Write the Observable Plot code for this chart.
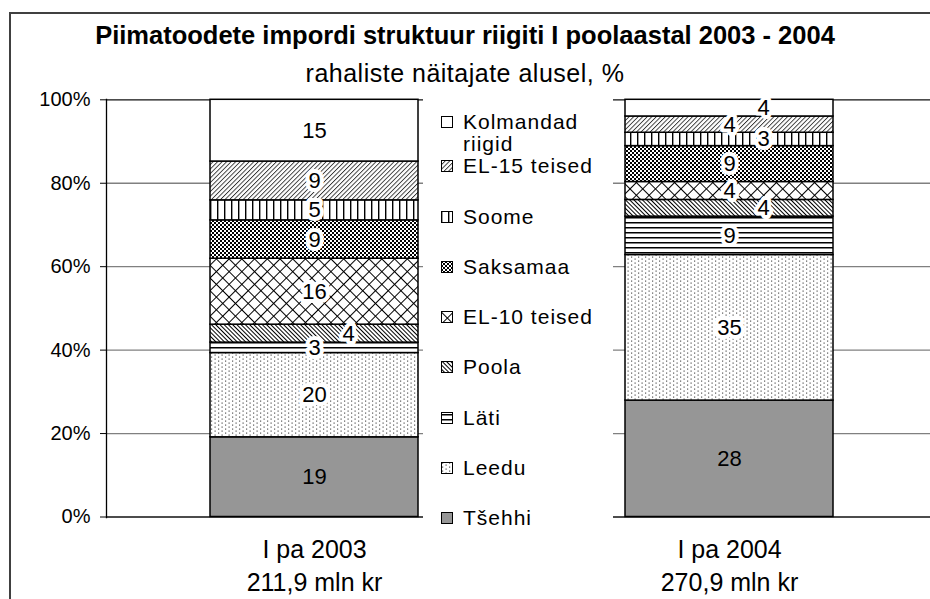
<!DOCTYPE html>
<html><head><meta charset="utf-8">
<script src="https://cdn.jsdelivr.net/npm/d3@7"></script>
<script src="https://cdn.jsdelivr.net/npm/@observablehq/plot@0.6"></script>
<style>
body{margin:0;background:#fff;font-family:"Liberation Sans",Arial,sans-serif;color:#000;}
#wrap{position:relative;width:930px;height:599px;overflow:hidden;}
#frame{position:absolute;left:9px;top:12px;width:1000px;height:700px;border-left:2px solid #404040;border-top:2px solid #404040;}
#title{position:absolute;left:0;width:930px;top:20px;text-align:center;font-weight:bold;font-size:25.5px;line-height:30px;}
#subtitle{position:absolute;left:0;width:930px;top:59px;text-align:center;font-size:25px;line-height:28px;letter-spacing:0.5px;}
#chart{position:absolute;left:0;top:80px;}
#legend{position:absolute;left:423px;top:92px;width:190px;height:443px;background:#fff;}
.item{position:absolute;left:18px;display:flex;align-items:flex-start;font-size:21px;letter-spacing:1px;line-height:22px;}
.item svg{flex:none;margin-top:5px;margin-right:10px;}
.item span{width:150px;display:block;}
</style></head>
<body>
<div id="wrap">
  <div id="frame"></div>
  <div id="title">Piimatoodete impordi struktuur riigiti I poolaastal 2003 - 2004</div>
  <div id="subtitle">rahaliste näitajate alusel, %</div>
  <div id="chart"></div>
  <div id="legend"></div>
</div>
<script>
// ---- data (bottom -> top of each stacked bar) ----
const countries = ["Tšehhi","Leedu","Läti","Poola","EL-10 teised","Saksamaa","Soome","EL-15 teised","Kolmandad riigid"];
const periods = ["I pa 2003","I pa 2004"];
const totals = ["211,9 mln kr","270,9 mln kr"];
const share2003 = [19.1,20.2,2.5,4.3,15.8,9.2,4.8,9.3,14.8];
const share2004 = [27.9,34.9,9.2,4.0,4.3,8.6,3.2,3.9,4.0];
const yTicks = [0,20,40,60,80,100];
const gridTicks = [20,40,60,80];

// ---- patterns ----
const defs = d3.select("body").append("svg").attr("width",0).attr("height",0)
  .style("position","absolute").append("defs");
function pat(id,w,h,tr){
  const p = defs.append("pattern").attr("id",id).attr("patternUnits","userSpaceOnUse")
    .attr("width",w).attr("height",h);
  if (tr) p.attr("patternTransform",tr);
  p.append("rect").attr("width",w).attr("height",h).attr("fill","#fff");
  return p;
}
// Leedu: sparse dots
let p = pat("p1",7,4); p.append("rect").attr("x",1).attr("y",0.5).attr("width",1.2).attr("height",1.2).attr("fill","#555");
p.append("rect").attr("x",4.5).attr("y",2.5).attr("width",1.2).attr("height",1.2).attr("fill","#555");
// Läti: horizontal lines
p = pat("p2",8,5); p.append("rect").attr("y",2).attr("width",8).attr("height",1.5).attr("fill","#000");
// Poola: "\\" diagonals
p = pat("p3",3,3,"rotate(-45)"); p.append("rect").attr("width",1).attr("height",3).attr("fill","#000");
// EL-10: diagonal cross-hatch
p = pat("p4",9,9,"rotate(45)"); p.append("rect").attr("width",1).attr("height",9).attr("fill","#000");
p.append("rect").attr("width",9).attr("height",1).attr("fill","#000");
// Saksamaa: dense dots
p = pat("p5",4,4); p.append("rect").attr("width",2).attr("height",2).attr("fill","#000");
p.append("rect").attr("x",2).attr("y",2).attr("width",2).attr("height",2).attr("fill","#000");
// Soome: vertical lines
p = pat("p6",7,7); p.append("rect").attr("width",1.4).attr("height",7).attr("fill","#000");
// EL-15: "//" diagonals
p = pat("p7",3.2,3.2,"rotate(45)"); p.append("rect").attr("width",0.9).attr("height",3.2).attr("fill","#333");

const fills = ["#969696","url(#p1)","url(#p2)","url(#p3)","url(#p4)","url(#p5)","url(#p6)","url(#p7)","#fff"];

// ---- table ----
function offsets(vals){
  const off = [];
  vals.forEach((v,i)=>{
    const prev = i>0 ? vals[i-1] : Infinity;
    const prevOff = i>0 ? off[i-1] : false;
    off.push(v < 4.5 && prev < 10 && !prevOff);
  });
  return off;
}
const rows = [];
[share2003, share2004].forEach((vals,pi)=>{
  const off = offsets(vals);
  vals.forEach((v,i)=> rows.push({period: periods[pi], country: countries[i], value: v, off: off[i], solid: i === 0}));
});
const lbl = d => String(Math.round(d.value));

const chart = Plot.plot({
  width: 930, height: 519,
  marginLeft: 106, marginRight: 0, marginTop: 19, marginBottom: 82,
  style: {fontFamily: '"Liberation Sans", Arial, sans-serif', color: "#000", background: "transparent", overflow: "visible"},
  x: {type: "band", domain: periods, range: [106, 937], paddingInner: 0.5, paddingOuter: 0.25, axis: null},
  y: {domain: [0,100], range: [436.5, 19.3]},
  color: {domain: countries, range: fills},
  marks: [
    Plot.ruleY(gridTicks, {stroke: "#808080", strokeWidth: 1.3}),
    Plot.ruleY([0,100], {stroke: "#111", strokeWidth: 1.3}),
    Plot.frame({anchor: "left", stroke: "#000", strokeWidth: 1.3}),
    Plot.axisY({ticks: yTicks, tickFormat: d => d + "%", tickSize: 6, tickPadding: 10, fontSize: 20, stroke: "#000", label: null}),
    Plot.barY(rows, {x: "period", y: "value", fill: "country", stroke: "#000", strokeWidth: 1.5}),
    // labels on the solid grey segment: no white box
    Plot.text(rows, Plot.stackY({x: "period", y: "value", text: d => d.solid ? lbl(d) : "",
      fontSize: 22, fill: "#000"})),
    // labels on patterned segments: white box behind
    Plot.text(rows, Plot.stackY({x: "period", y: "value", text: d => (!d.solid && !d.off) ? lbl(d) : "",
      fontSize: 22, fill: "#000", stroke: "#fff", strokeWidth: 8})),
    Plot.text(rows, Plot.stackY({x: "period", y: "value", text: d => (!d.solid && d.off) ? lbl(d) : "",
      dx: 34, fontSize: 22, fill: "#000", stroke: "#fff", strokeWidth: 8})),
    Plot.text(periods, {x: d => d, text: (d,i) => d + "\n" + totals[i], frameAnchor: "bottom",
      lineAnchor: "middle", dy: 46.5, lineHeight: 1.3, fontSize: 25, fill: "#000"})
  ]
});
document.getElementById("chart").appendChild(chart);

// ---- legend (top to bottom) ----
const legend = d3.select("#legend");
const legendTop = 92;
countries.forEach((c,i)=>{
  const center = 518 - i*50.25;
  const wrapped = c.length > 14;
  const top = (wrapped ? center - 5 : center - 11) - legendTop;
  const it = legend.append("div").attr("class","item").style("top", top + "px");
  const s = it.append("svg").attr("width",12).attr("height",12);
  s.append("rect").attr("x",0.5).attr("y",0.5).attr("width",11).attr("height",11)
    .attr("fill", fills[i]).attr("stroke","#000");
  it.append("span").text(c);
});
</script>
</body></html>
